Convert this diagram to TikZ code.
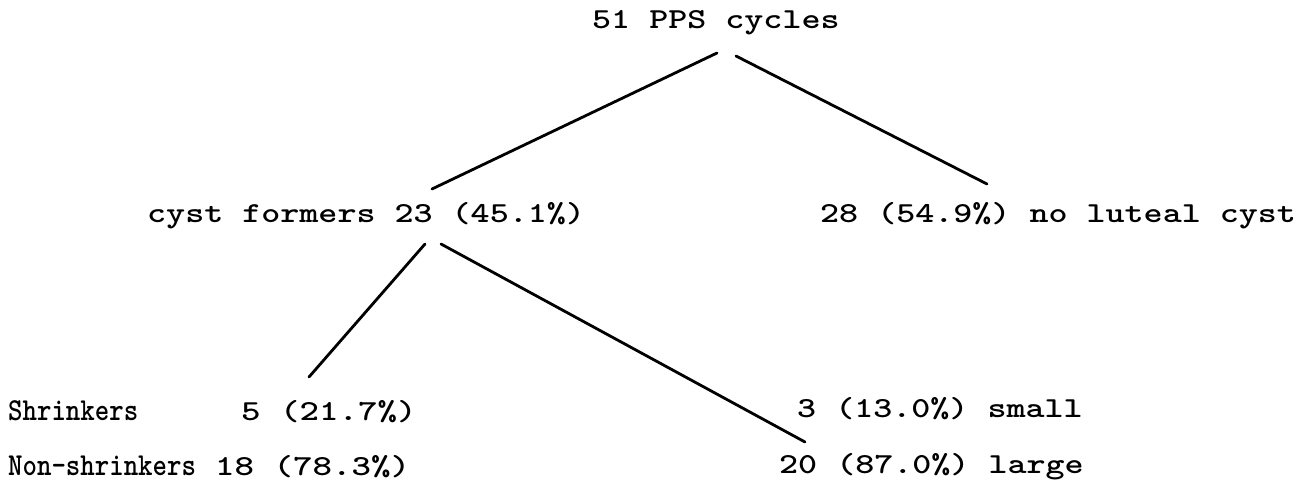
\documentclass[tikz,border=0pt]{standalone}
\usepackage{graphicx}
\usepackage{fontspec}
\newcommand{\tw}[2]{\scalebox{#1}[1]{\ttfamily\bfseries #2}}
\begin{document}
\begin{tikzpicture}[x=1pt,y=-1pt,
  lbl/.style={anchor=base west,inner sep=0pt,font=\fontsize{29}{29}\selectfont},
  lbltall/.style={anchor=base west,inner sep=0pt,font=\fontsize{32}{32}\selectfont},
  edge/.style={line width=2.8pt,line cap=round}]
\useasboundingbox (0,0) rectangle (1315,485);
% text nodes
\node[lbl] (root) at (592,28) {\tw{1.25}{51 PPS cycles}};
\node[lbl] (cyst) at (147,222) {\tw{1.25}{cyst formers 23 (45.1\%)}};
\node[lbl] (nolut) at (820,222) {\tw{1.25}{28 (54.9\%) no luteal cyst}};
\node[lbltall] (shr) at (8,420) {\tw{0.86}{Shrinkers}};
\node[lbl] (shrn) at (241,420) {\tw{1.28}{5 (21.7\%)}};
\node[lbltall] (nonshr) at (8,475) {\tw{0.86}{Non-shrinkers}};
\node[lbl] (nonshrn) at (215,475) {\tw{1.28}{18 (78.3\%)}};
\node[lbl] (small) at (797,417) {\tw{1.25}{3 (13.0\%) small}};
\node[lbl] (large) at (779,473) {\tw{1.25}{20 (87.0\%) large}};
% connector end points
\coordinate (r1) at (717,53);
\coordinate (r2) at (736,56);
\coordinate (c1) at (432,189);
\coordinate (n1) at (987,184);
\coordinate (c2) at (425,244);
\coordinate (c3) at (441,244);
\coordinate (s1) at (309,377);
\coordinate (l1) at (805,442);
% connectors
\draw[edge] (r1) -- (c1);
\draw[edge] (r2) -- (n1);
\draw[edge] (c2) -- (s1);
\draw[edge] (c3) -- (l1);
\end{tikzpicture}
\end{document}
